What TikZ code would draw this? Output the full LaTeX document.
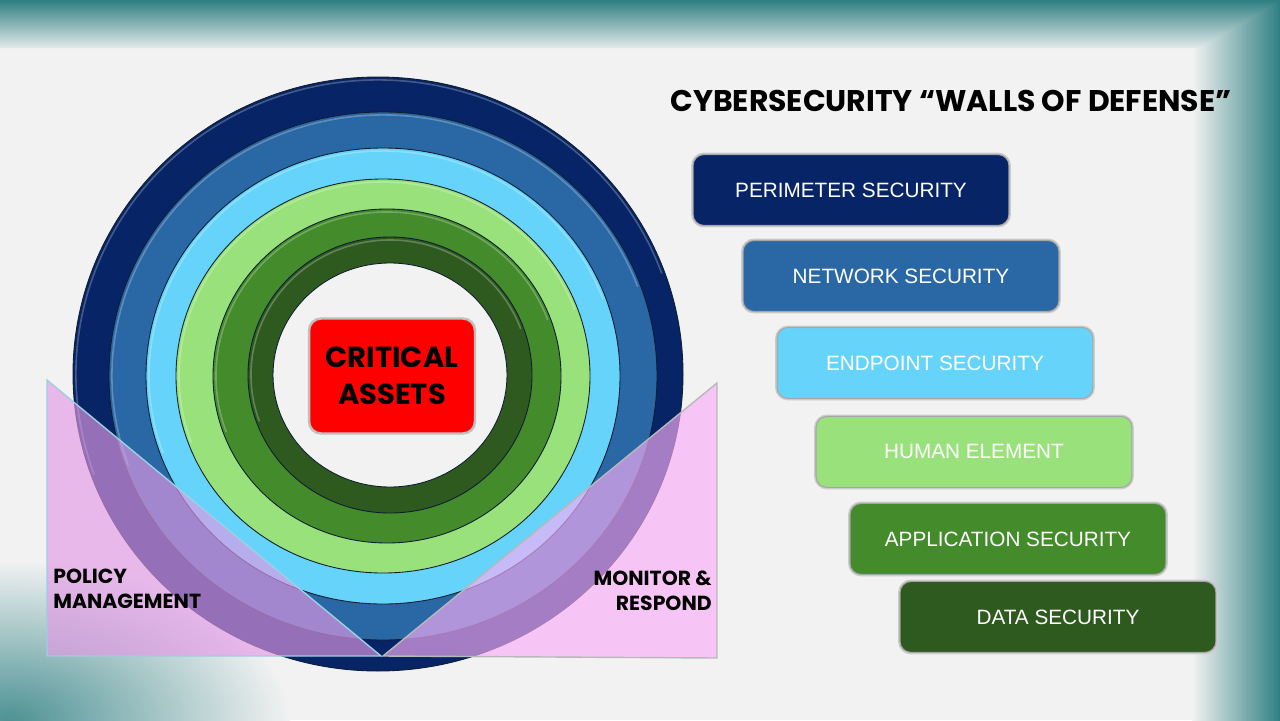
\documentclass[tikz,border=0pt]{standalone}
\usepackage{fontspec}
\setmainfont{Liberation Sans}
\newfontfamily\headfont{Poppins}
\usetikzlibrary{positioning}

\definecolor{bgGrey}{HTML}{F2F2F2}
\definecolor{frameTeal}{HTML}{2E7F82}
\definecolor{navy}{HTML}{062466}
\definecolor{midBlue}{HTML}{2A67A5}
\definecolor{skyBlue}{HTML}{66D4FA}
\definecolor{lightGreen}{HTML}{99E27B}
\definecolor{midGreen}{HTML}{438B2B}
\definecolor{darkGreen}{HTML}{2E5A1F}
\definecolor{ringEdge}{HTML}{0E1E30}
\definecolor{pinkLeft}{HTML}{E399E6}
\definecolor{pinkRight}{HTML}{FAAEF8}
\definecolor{leftEdge}{HTML}{9CCFE0}
\definecolor{rightEdge}{HTML}{B8B8B8}

\tikzstyle{wall} = [rectangle, rounded corners=0.22cm,
minimum width=6.32cm, minimum height=1.42cm,
text centered, text=white,
font=\fontsize{11.8}{14}\selectfont,
draw=black!35, line width=0.6pt,
preaction={draw=gray!40, line width=2.2pt}]
\tikzstyle{ring} = [draw=ringEdge, line width=0.5pt]
\tikzstyle{rim} = [draw=white, line width=0.9pt, draw opacity=0.25]
\tikzstyle{wedge} = [fill opacity=0.65, line width=0.8pt]
\tikzstyle{sidetext} = [font=\headfont\bfseries\fontsize{11.6}{14.2}\selectfont,
inner sep=0pt]

\begin{document}
\begin{tikzpicture}[x=0.02cm, y=-0.02cm, node distance=1.74cm]
% backdrop and frame
\useasboundingbox (0,0) rectangle (1280,720);
\fill[bgGrey] (0,0) rectangle (1280,720);
\begin{scope}
\clip (0,0) rectangle (1280,720);
\shade[inner color=frameTeal!85, outer color=bgGrey] (10,720) ellipse [x radius=280, y radius=160];
\end{scope}
\shade[left color=bgGrey, right color=frameTeal] (1192,0) rectangle (1280,720);
\shade[top color=frameTeal, bottom color=bgGrey!92!frameTeal] (0,0) -- (1280,0) -- (1200,48) -- (0,48) -- cycle;

% walls, outside in
\filldraw[ring, fill=navy] (378,374) ellipse [x radius=305, y radius=297];
\draw[rim] (378,374) ++(160:302 and 294) arc[start angle=160, end angle=340, x radius=302, y radius=294];
\filldraw[ring, fill=midBlue] (383,376) ellipse [x radius=274, y radius=264];
\draw[rim] (383,376) ++(160:271 and 261) arc[start angle=160, end angle=340, x radius=271, y radius=261];
\filldraw[ring, fill=skyBlue] (383,376) ellipse [x radius=237, y radius=228];
\draw[rim] (383,376) ++(160:234 and 225) arc[start angle=160, end angle=340, x radius=234, y radius=225];
\filldraw[ring, fill=lightGreen] (383,376) ellipse [x radius=207, y radius=197];
\draw[rim] (383,376) ++(160:204 and 194) arc[start angle=160, end angle=340, x radius=204, y radius=194];
\filldraw[ring, fill=midGreen] (387,376) ellipse [x radius=174, y radius=167];
\draw[rim] (387,376) ++(160:171 and 164) arc[start angle=160, end angle=340, x radius=171, y radius=164];
\filldraw[ring, fill=darkGreen] (390,375) ellipse [x radius=142, y radius=138];
\draw[rim] (390,375) ++(160:139 and 135) arc[start angle=160, end angle=340, x radius=139, y radius=135];
\filldraw[ring, fill=bgGrey] (390,375) ellipse [x radius=117, y radius=112];

\node (core) [rectangle, rounded corners=0.24cm,
  minimum width=3.32cm, minimum height=2.3cm,
  fill=red, draw=gray!50, line width=1.4pt, align=center,
  font=\headfont\bfseries\fontsize{16.5}{21}\selectfont] at (392,376) {CRITICAL\\ASSETS};

% policy / monitor wedges
\filldraw[wedge, fill=pinkLeft, draw=leftEdge] (47,380) -- (47,656) -- (381,656) -- cycle;
\filldraw[wedge, fill=pinkRight, draw=rightEdge] (717,383) -- (717,658) -- (383,656) -- cycle;
\node (policy) [sidetext, anchor=west, align=left] at (53,589) {POLICY\\MANAGEMENT};
\node (monitor) [sidetext, anchor=east, align=right] at (712,591) {MONITOR \&\\RESPOND};

% legend
\node (title) [font=\headfont\bfseries\fontsize{17}{20}\selectfont] at (951,101) {CYBERSECURITY “WALLS OF DEFENSE”};
\node (perimeter) [wall, fill=navy] at (851,190) {PERIMETER SECURITY};
\node (network) [wall, fill=midBlue, below of=perimeter, xshift=1cm, yshift=0.02cm] {NETWORK SECURITY};
\node (endpoint) [wall, fill=skyBlue, below of=network, xshift=0.68cm] {ENDPOINT SECURITY};
\node (human) [wall, fill=lightGreen, below of=endpoint, xshift=0.78cm, yshift=-0.04cm] {HUMAN ELEMENT};
\node (application) [wall, fill=midGreen, below of=human, xshift=0.68cm] {APPLICATION SECURITY};
\node (data) [wall, fill=darkGreen, below of=application, xshift=1cm, yshift=0.18cm] {DATA SECURITY};
\end{tikzpicture}
\end{document}
